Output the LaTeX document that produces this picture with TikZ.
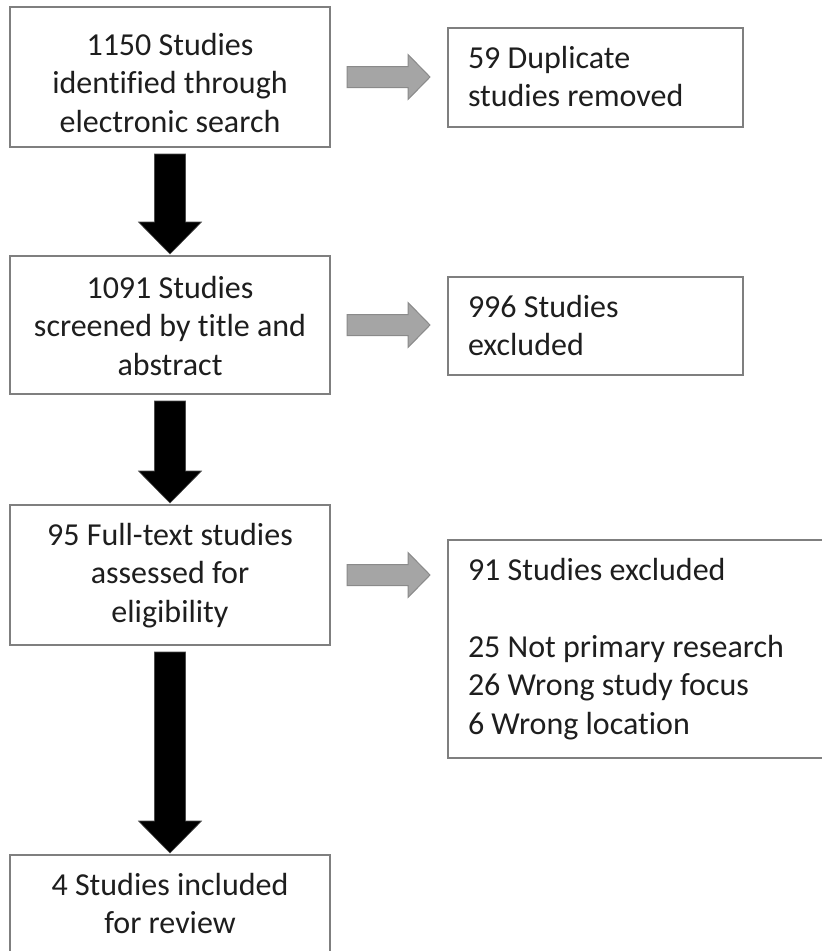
\documentclass[tikz,border=0pt]{standalone}
\usepackage{fontspec}
\setmainfont{Carlito}[Ligatures={NoCommon,NoRare,NoDiscretionary}]
\usetikzlibrary{calc}
\definecolor{boxline}{HTML}{7F7F7F}
\definecolor{grayfill}{HTML}{A5A5A5}
\definecolor{grayedge}{HTML}{8A8A8A}
\definecolor{textcol}{HTML}{1E1E1E}
\begin{document}
\begin{tikzpicture}[x=1pt,y=-1pt,
  box/.style={draw=boxline, line width=1.8pt, fill=white, inner sep=0pt, outer sep=0pt},
  txt/.style={font=\fontsize{32}{38.5}\selectfont, text=textcol, inner sep=0pt, outer sep=0pt},
  ctxt/.style={txt, align=center, anchor=north},
  ltxt/.style={txt, align=left, anchor=north west},
  grayarrow/.style={fill=grayfill, draw=grayedge, line width=1pt, line join=miter},
  blackarrow/.style={fill=black, draw=black!70, line width=0.6pt, line join=miter}]
\useasboundingbox (0,0) rectangle (822,951);
\clip (0,0) rectangle (822,951);
\fill[white] (0,0) rectangle (822,951);

% left column boxes
\node[box, minimum width=320pt, minimum height=140pt] (b1) at (170,77) {};
\node[box, minimum width=320pt, minimum height=138pt] (b2) at (170,325) {};
\node[box, minimum width=320pt, minimum height=140pt] (b3) at (170,575) {};
\node[box, minimum width=320pt, minimum height=98pt] (b4) at (170,904) {};

% right column boxes
\node[box, minimum width=295pt, minimum height=99pt] (r1) at (595.5,77.5) {};
\node[box, minimum width=295pt, minimum height=98pt] (r2) at (595.5,326) {};
\node[box, minimum width=387pt, minimum height=218pt] (r3) at (641.5,649) {};

% texts
\node[ctxt] (t1) at ($(b1.north)+(0,23)$) {\rule{0pt}{25pt}1150 Studies\\identified through\\electronic search};
\node[ctxt] (t2) at ($(b2.north)+(0,17)$) {\rule{0pt}{25pt}1091 Studies\\screened by title and\\abstract};
\node[ctxt] (t3) at ($(b3.north)+(0,15)$) {\rule{0pt}{25pt}95 Full-text studies\\assessed for\\eligibility};
\node[ctxt] (t4) at ($(b4.north)+(0,15)$) {\rule{0pt}{25pt}4 Studies included\\for review};

\node[ltxt] (s1) at ($(r1.north west)+(20,15)$) {\rule{0pt}{25pt}59 Duplicate\\studies removed};
\node[ltxt] (s2) at ($(r2.north west)+(20,15)$) {\rule{0pt}{25pt}996 Studies\\excluded};
\node[ltxt] (s3) at ($(r3.north west)+(20,15)$) {\rule{0pt}{25pt}91 Studies excluded\\[38.5pt]25 Not primary research\\26 Wrong study focus\\6 Wrong location};

% black down arrows
\foreach \a/\b in {b1/b2, b2/b3, b3/b4}{
  \filldraw[blackarrow] let \p1=(\a.south), \p2=(\b.north) in
    (\x1-15.5pt,\y1-7pt) -- (\x1+15.5pt,\y1-7pt) -- (\x1+15.5pt,\y2+34pt)
    -- (\x1+31.5pt,\y2+34pt) -- (\x1,\y2+2pt) -- (\x1-31.5pt,\y2+34pt)
    -- (\x1-15.5pt,\y2+34pt) -- cycle;
}

% gray right arrows
\foreach \a/\b in {b1/r1, b2/r2, b3/r3}{
  \filldraw[grayarrow] let \p1=(\a.east), \p2=(\b.west) in
    (\x1+17pt,\y1+10.5pt) -- (\x2-40pt,\y1+10.5pt) -- (\x2-40pt,\y1+22.5pt)
    -- (\x2-18pt,\y1) -- (\x2-40pt,\y1-22.5pt) -- (\x2-40pt,\y1-10.5pt)
    -- (\x1+17pt,\y1-10.5pt) -- cycle;
}
\end{tikzpicture}
\end{document}
